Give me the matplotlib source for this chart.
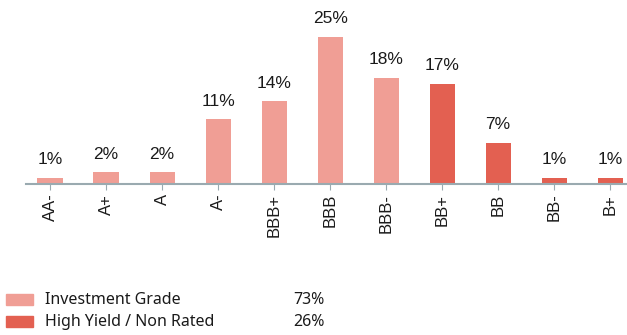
import matplotlib.pyplot as plt
from matplotlib.patches import Rectangle

ratings = ['AA-', 'A+', 'A', 'A-', 'BBB+', 'BBB', 'BBB-', 'BB+', 'BB', 'BB-', 'B+']
weights = [1, 2, 2, 11, 14, 25, 18, 17, 7, 1, 1]
groups = ['IG', 'IG', 'IG', 'IG', 'IG', 'IG', 'IG', 'HY', 'HY', 'HY', 'HY']

legend_names = ['Investment Grade', 'High Yield / Non Rated']
legend_totals = ['73%', '26%']

light = '#F09E95'
dark = '#E36051'
colors = [light if g == 'IG' else dark for g in groups]

fig = plt.figure(figsize=(6.27, 3.35), dpi=100)
ax = fig.add_axes([26 / 627, 151 / 335, 601 / 627, 184 / 335])

x = range(len(ratings))
ax.bar(x, weights, width=0.45, color=colors)
for i, w in zip(x, weights):
    ax.text(i, w + 1.8, f'{w}%', ha='center', va='bottom', fontsize=12.5,
            family='Liberation Sans', color='#1a1a1a')

ax.set_xlim(-0.43, 10.3)
ax.set_ylim(0, 31.2)
ax.set_xticks(list(x))
ax.set_xticklabels(ratings, rotation=90, fontsize=12, family='Liberation Sans', color='#1a1a1a')
ax.tick_params(axis='x', length=4, color='#9AAAB0', pad=3)
ax.set_yticks([])
for s in ['top', 'right', 'left']:
    ax.spines[s].set_visible(False)
ax.spines['bottom'].set_color('#9AAAB0')
ax.spines['bottom'].set_linewidth(1.5)

# legend drawn by hand
for k, (name, total, c) in enumerate(zip(legend_names, legend_totals, [light, dark])):
    yc = 335 - (300 + k * 22)
    fig.patches.append(Rectangle((6 / 627, (yc - 5) / 335), 27 / 627, 11 / 335,
                                 color=c, transform=fig.transFigure, figure=fig))
    fig.text(45 / 627, yc / 335, name, va='center', fontsize=11.5, family='Noto Sans', color='#1a1a1a')
    fig.text(293 / 627, yc / 335, total, va='center', fontsize=11.5, family='Noto Sans', color='#1a1a1a')

fig.savefig('out.png', dpi=100)
